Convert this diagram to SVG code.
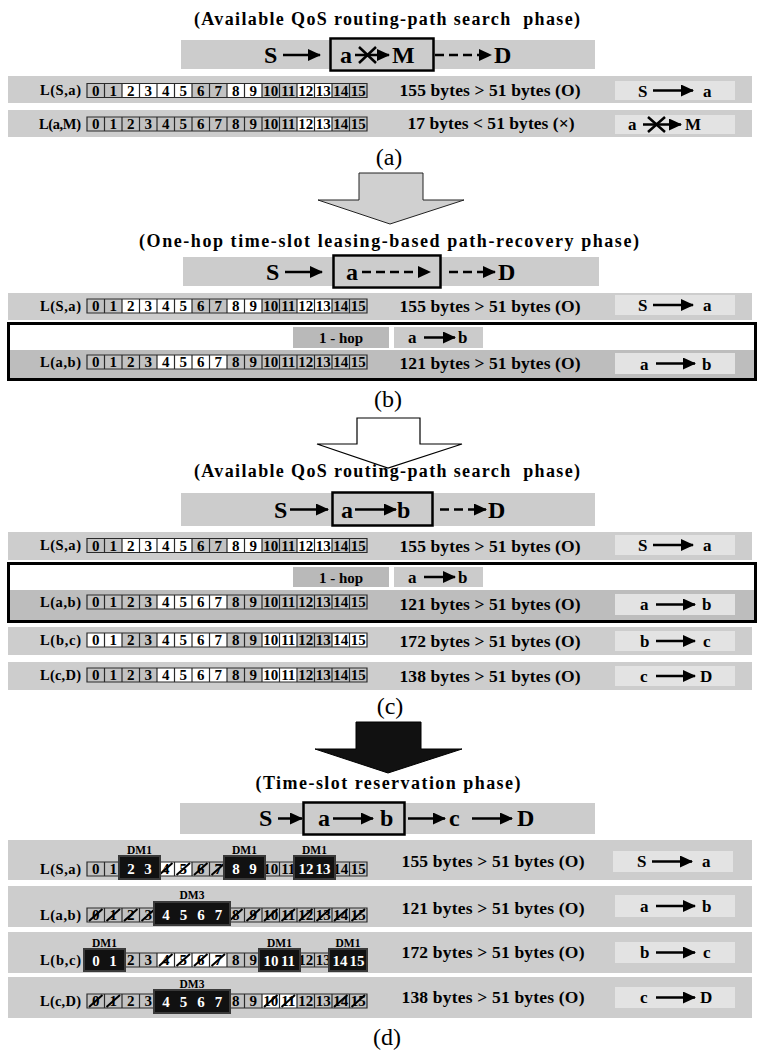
<svg xmlns="http://www.w3.org/2000/svg" width="759" height="1050" viewBox="0 0 759 1050">
<defs>
<style>
text{font-family:"Liberation Serif","Times New Roman",serif;font-weight:bold;fill:#000}
.t{font-size:18px;text-anchor:middle}
.big{font-size:24px}
.lab{font-size:14.5px;text-anchor:end}
.n text{font-size:15px;text-anchor:middle}
.n text.w{fill:#fff}
.n .dml{font-size:11.5px}
.mid{font-size:17.5px;text-anchor:middle}
.rt{font-size:17px}
.hop{font-size:15px;text-anchor:middle}
.cap{font-size:24px;font-weight:normal;text-anchor:middle}
.bar{fill:#cccccc}
.row{fill:#cdcdcd}
.rowd{fill:#bdbdbd}
.rb{fill:#e3e3e3}
.hb{fill:#b9b9b9}
.ab{fill:#cbcbcb}
.cg{fill:#c2c2c2}
.wc{fill:#fff}
.grid{fill:none;stroke:#2a2a2a;stroke-width:1.2}
.box{fill:none;stroke:#000;stroke-width:2.5}
.ln{stroke:#000;stroke-width:2.5;fill:none}
.dash{stroke-dasharray:9 5}
.sl{stroke:#000;stroke-width:2;fill:none}
.dm{fill:#111;stroke:#3a3a3a;stroke-width:2}
.frame{fill:none;stroke:#000;stroke-width:3}
</style>
<marker id="ah" markerUnits="userSpaceOnUse" markerWidth="13" markerHeight="12" refX="12" refY="6" orient="auto"><path d="M0 0L13 6L0 12z" fill="#000"/></marker>
<path id="gridp" class="grid" d="M87 0H367V14H87Z M104.5 0V14 M122 0V14 M139.5 0V14 M157 0V14 M174.5 0V14 M192 0V14 M209.5 0V14 M227 0V14 M244.5 0V14 M262 0V14 M279.5 0V14 M297 0V14 M314.5 0V14 M332 0V14 M349.5 0V14"/>
</defs>
<rect width="759" height="1050" fill="#fff"/>

<!-- ===== (a) ===== -->
<g id="title-a"><text class="t" x="387" y="25" textLength="386" lengthAdjust="spacing" xml:space="preserve">(Available QoS routing-path search  phase)</text></g>
<g id="path-a">
<rect class="bar" x="181" y="40" width="414" height="29"/>
<rect class="box" x="330.5" y="38.5" width="103" height="32"/>
<text class="big" x="264" y="63">S</text>
<line class="ln" x1="283" y1="55" x2="320" y2="55" marker-end="url(#ah)"/>
<text class="big" x="340" y="63">a</text>
<line class="ln" x1="355" y1="55" x2="389" y2="55" marker-end="url(#ah)"/>
<path class="ln" d="M359 47L376 63M376 47L359 63"/>
<text class="big" x="392" y="63">M</text>
<line class="ln dash" x1="435" y1="55" x2="491" y2="55" marker-end="url(#ah)"/>
<text class="big" x="494" y="63">D</text>
</g>
<g id="row-a1">
<rect class="row" x="8" y="76" width="744" height="27"/>
<text class="lab" x="81" y="95" textLength="41">L(S,a)</text>
<g class="n" transform="translate(0,83.5)">
<rect class="cg" x="87" width="280" height="14"/>
<rect class="wc" x="122" width="70" height="14"/><rect class="wc" x="227" width="35" height="14"/><rect class="wc" x="297" width="35" height="14"/>
<use href="#gridp"/>
<text x="95.75" y="12">0</text><text x="113.25" y="12">1</text><text x="130.75" y="12">2</text><text x="148.25" y="12">3</text><text x="165.75" y="12">4</text><text x="183.25" y="12">5</text><text x="200.75" y="12">6</text><text x="218.25" y="12">7</text><text x="235.75" y="12">8</text><text x="253.25" y="12">9</text><text x="270.75" y="12">10</text><text x="288.25" y="12">11</text><text x="305.75" y="12">12</text><text x="323.25" y="12">13</text><text x="340.75" y="12">14</text><text x="358.25" y="12">15</text>
</g>
<text class="mid" x="490" y="95.5" textLength="181">155 bytes &gt; 51 bytes (O)</text>
<rect class="rb" x="615" y="81" width="120" height="19"/>
<text class="rt" x="638" y="96.5">S</text>
<line class="ln" x1="653" y1="90.5" x2="693" y2="90.5" marker-end="url(#ah)"/>
<text class="rt" x="703" y="96.5">a</text>
</g>
<g id="row-a2">
<rect class="row" x="8" y="110" width="744" height="27"/>
<text class="lab" x="81" y="128.5" textLength="42">L(a,M)</text>
<g class="n" transform="translate(0,117)">
<rect class="cg" x="87" width="280" height="14"/>
<rect class="wc" x="297" width="35" height="14"/>
<use href="#gridp"/>
<text x="95.75" y="12">0</text><text x="113.25" y="12">1</text><text x="130.75" y="12">2</text><text x="148.25" y="12">3</text><text x="165.75" y="12">4</text><text x="183.25" y="12">5</text><text x="200.75" y="12">6</text><text x="218.25" y="12">7</text><text x="235.75" y="12">8</text><text x="253.25" y="12">9</text><text x="270.75" y="12">10</text><text x="288.25" y="12">11</text><text x="305.75" y="12">12</text><text x="323.25" y="12">13</text><text x="340.75" y="12">14</text><text x="358.25" y="12">15</text>
</g>
<text class="mid" x="491" y="129" textLength="167">17 bytes &lt; 51 bytes (×)</text>
<rect class="rb" x="615" y="115" width="120" height="19"/>
<text class="rt" x="628" y="130">a</text>
<line class="ln" x1="643" y1="124.5" x2="681" y2="124.5" marker-end="url(#ah)"/>
<path class="ln" d="M648 117L665 132M665 117L648 132"/>
<text class="rt" x="685" y="130">M</text>
</g>
<g id="label-a"><text class="cap" x="389" y="165">(a)</text></g>

<!-- ===== (b) ===== -->
<g id="title-b"><text class="t" x="389" y="247" textLength="500" lengthAdjust="spacing">(One-hop time-slot leasing-based path-recovery phase)</text></g>
<g id="path-b">
<rect class="bar" x="183" y="257" width="416" height="29"/>
<rect class="box" x="333.5" y="255.5" width="107" height="32"/>
<text class="big" x="266" y="280">S</text>
<line class="ln" x1="285" y1="272" x2="322" y2="272" marker-end="url(#ah)"/>
<text class="big" x="346" y="280">a</text>
<line class="ln dash" x1="362" y1="272" x2="430" y2="272" marker-end="url(#ah)"/>
<line class="ln dash" x1="449" y1="272" x2="495" y2="272" marker-end="url(#ah)"/>
<text class="big" x="498" y="280">D</text>
</g>
<g id="row-b1">
<rect class="row" x="8" y="293" width="744" height="27"/>
<text class="lab" x="81" y="310.5" textLength="41">L(S,a)</text>
<g class="n" transform="translate(0,299)">
<rect class="cg" x="87" width="280" height="14"/>
<rect class="wc" x="122" width="70" height="14"/><rect class="wc" x="227" width="35" height="14"/><rect class="wc" x="297" width="35" height="14"/>
<use href="#gridp"/>
<text x="95.75" y="12">0</text><text x="113.25" y="12">1</text><text x="130.75" y="12">2</text><text x="148.25" y="12">3</text><text x="165.75" y="12">4</text><text x="183.25" y="12">5</text><text x="200.75" y="12">6</text><text x="218.25" y="12">7</text><text x="235.75" y="12">8</text><text x="253.25" y="12">9</text><text x="270.75" y="12">10</text><text x="288.25" y="12">11</text><text x="305.75" y="12">12</text><text x="323.25" y="12">13</text><text x="340.75" y="12">14</text><text x="358.25" y="12">15</text>
</g>
<text class="mid" x="490" y="312" textLength="181">155 bytes &gt; 51 bytes (O)</text>
<rect class="rb" x="615" y="295" width="120" height="20"/>
<text class="rt" x="638" y="311">S</text>
<line class="ln" x1="653" y1="305" x2="693" y2="305" marker-end="url(#ah)"/>
<text class="rt" x="703" y="311">a</text>
</g>
<g id="hop-b">
<rect class="frame" x="8.5" y="323.5" width="747" height="56"/>
<rect class="hb" x="293" y="327" width="96" height="21"/>
<text class="hop" x="341" y="343">1 - hop</text>
<rect class="ab" x="394" y="327" width="89" height="21"/>
<text class="rt" x="408" y="343">a</text>
<line class="ln" x1="424" y1="337.5" x2="455" y2="337.5" marker-end="url(#ah)"/>
<text class="rt" x="458" y="343">b</text>
</g>
<g id="row-b2">
<rect class="rowd" x="10" y="350" width="744" height="28"/>
<text class="lab" x="81" y="366.5" textLength="41">L(a,b)</text>
<g class="n" transform="translate(0,355)">
<rect class="cg" x="87" width="280" height="14"/>
<rect class="wc" x="157" width="70" height="14"/>
<use href="#gridp"/>
<text x="95.75" y="12">0</text><text x="113.25" y="12">1</text><text x="130.75" y="12">2</text><text x="148.25" y="12">3</text><text x="165.75" y="12">4</text><text x="183.25" y="12">5</text><text x="200.75" y="12">6</text><text x="218.25" y="12">7</text><text x="235.75" y="12">8</text><text x="253.25" y="12">9</text><text x="270.75" y="12">10</text><text x="288.25" y="12">11</text><text x="305.75" y="12">12</text><text x="323.25" y="12">13</text><text x="340.75" y="12">14</text><text x="358.25" y="12">15</text>
</g>
<text class="mid" x="490" y="369" textLength="181">121 bytes &gt; 51 bytes (O)</text>
<rect class="rb" x="615" y="353" width="120" height="21"/>
<text class="rt" x="640" y="369.5">a</text>
<line class="ln" x1="656" y1="363.5" x2="695" y2="363.5" marker-end="url(#ah)"/>
<text class="rt" x="702" y="369.5">b</text>
</g>
<g id="label-b"><text class="cap" x="388" y="407">(b)</text></g>

<!-- ===== (c) ===== -->
<g id="title-c"><text class="t" x="387" y="477" textLength="386" lengthAdjust="spacing" xml:space="preserve">(Available QoS routing-path search  phase)</text></g>
<g id="path-c">
<rect class="bar" x="181" y="493" width="414" height="33"/>
<rect class="box" x="332.5" y="492.5" width="100" height="33"/>
<text class="big" x="274" y="517.5">S</text>
<line class="ln" x1="290" y1="509.5" x2="328" y2="509.5" marker-end="url(#ah)"/>
<text class="big" x="341" y="517.5">a</text>
<line class="ln" x1="355" y1="509.5" x2="396" y2="509.5" marker-end="url(#ah)"/>
<text class="big" x="397" y="517.5">b</text>
<line class="ln dash" x1="440" y1="509.5" x2="486" y2="509.5" marker-end="url(#ah)"/>
<text class="big" x="488" y="517.5">D</text>
</g>
<g id="row-c1">
<rect class="row" x="8" y="532" width="744" height="28"/>
<text class="lab" x="81" y="550" textLength="41">L(S,a)</text>
<g class="n" transform="translate(0,538.5)">
<rect class="cg" x="87" width="280" height="14"/>
<rect class="wc" x="122" width="70" height="14"/><rect class="wc" x="227" width="35" height="14"/><rect class="wc" x="297" width="35" height="14"/>
<use href="#gridp"/>
<text x="95.75" y="12">0</text><text x="113.25" y="12">1</text><text x="130.75" y="12">2</text><text x="148.25" y="12">3</text><text x="165.75" y="12">4</text><text x="183.25" y="12">5</text><text x="200.75" y="12">6</text><text x="218.25" y="12">7</text><text x="235.75" y="12">8</text><text x="253.25" y="12">9</text><text x="270.75" y="12">10</text><text x="288.25" y="12">11</text><text x="305.75" y="12">12</text><text x="323.25" y="12">13</text><text x="340.75" y="12">14</text><text x="358.25" y="12">15</text>
</g>
<text class="mid" x="490" y="551.5" textLength="181">155 bytes &gt; 51 bytes (O)</text>
<rect class="rb" x="615" y="535" width="120" height="20"/>
<text class="rt" x="638" y="551">S</text>
<line class="ln" x1="653" y1="545" x2="693" y2="545" marker-end="url(#ah)"/>
<text class="rt" x="703" y="551">a</text>
</g>
<g id="hop-c">
<rect class="frame" x="8.5" y="563.5" width="747" height="58"/>
<rect class="hb" x="293" y="567" width="96" height="20"/>
<text class="hop" x="341" y="582.5">1 - hop</text>
<rect class="ab" x="394" y="567" width="89" height="20"/>
<text class="rt" x="408" y="582.5">a</text>
<line class="ln" x1="424" y1="577" x2="455" y2="577" marker-end="url(#ah)"/>
<text class="rt" x="458" y="582.5">b</text>
</g>
<g id="row-c2">
<rect class="rowd" x="10" y="590" width="744" height="30"/>
<text class="lab" x="81" y="606.5" textLength="41">L(a,b)</text>
<g class="n" transform="translate(0,595)">
<rect class="cg" x="87" width="280" height="14"/>
<rect class="wc" x="157" width="70" height="14"/>
<use href="#gridp"/>
<text x="95.75" y="12">0</text><text x="113.25" y="12">1</text><text x="130.75" y="12">2</text><text x="148.25" y="12">3</text><text x="165.75" y="12">4</text><text x="183.25" y="12">5</text><text x="200.75" y="12">6</text><text x="218.25" y="12">7</text><text x="235.75" y="12">8</text><text x="253.25" y="12">9</text><text x="270.75" y="12">10</text><text x="288.25" y="12">11</text><text x="305.75" y="12">12</text><text x="323.25" y="12">13</text><text x="340.75" y="12">14</text><text x="358.25" y="12">15</text>
</g>
<text class="mid" x="490" y="609.5" textLength="181">121 bytes &gt; 51 bytes (O)</text>
<rect class="rb" x="615" y="594" width="120" height="21"/>
<text class="rt" x="640" y="610">a</text>
<line class="ln" x1="656" y1="604.5" x2="695" y2="604.5" marker-end="url(#ah)"/>
<text class="rt" x="702" y="610">b</text>
</g>
<g id="row-c3">
<rect class="row" x="8" y="627" width="744" height="28"/>
<text class="lab" x="81" y="644.5" textLength="41">L(b,c)</text>
<g class="n" transform="translate(0,633)">
<rect class="cg" x="87" width="280" height="14"/>
<rect class="wc" x="87" width="35" height="14"/><rect class="wc" x="157" width="70" height="14"/><rect class="wc" x="262" width="35" height="14"/><rect class="wc" x="332" width="35" height="14"/>
<use href="#gridp"/>
<text x="95.75" y="12">0</text><text x="113.25" y="12">1</text><text x="130.75" y="12">2</text><text x="148.25" y="12">3</text><text x="165.75" y="12">4</text><text x="183.25" y="12">5</text><text x="200.75" y="12">6</text><text x="218.25" y="12">7</text><text x="235.75" y="12">8</text><text x="253.25" y="12">9</text><text x="270.75" y="12">10</text><text x="288.25" y="12">11</text><text x="305.75" y="12">12</text><text x="323.25" y="12">13</text><text x="340.75" y="12">14</text><text x="358.25" y="12">15</text>
</g>
<text class="mid" x="490" y="646.5" textLength="181">172 bytes &gt; 51 bytes (O)</text>
<rect class="rb" x="615" y="631" width="120" height="20"/>
<text class="rt" x="640" y="647">b</text>
<line class="ln" x1="656" y1="641" x2="695" y2="641" marker-end="url(#ah)"/>
<text class="rt" x="703" y="647">c</text>
</g>
<g id="row-c4">
<rect class="row" x="8" y="662" width="744" height="28"/>
<text class="lab" x="81" y="679.5" textLength="41">L(c,D)</text>
<g class="n" transform="translate(0,668)">
<rect class="cg" x="87" width="280" height="14"/>
<rect class="wc" x="157" width="70" height="14"/><rect class="wc" x="262" width="35" height="14"/>
<use href="#gridp"/>
<text x="95.75" y="12">0</text><text x="113.25" y="12">1</text><text x="130.75" y="12">2</text><text x="148.25" y="12">3</text><text x="165.75" y="12">4</text><text x="183.25" y="12">5</text><text x="200.75" y="12">6</text><text x="218.25" y="12">7</text><text x="235.75" y="12">8</text><text x="253.25" y="12">9</text><text x="270.75" y="12">10</text><text x="288.25" y="12">11</text><text x="305.75" y="12">12</text><text x="323.25" y="12">13</text><text x="340.75" y="12">14</text><text x="358.25" y="12">15</text>
</g>
<text class="mid" x="490" y="681.5" textLength="181">138 bytes &gt; 51 bytes (O)</text>
<rect class="rb" x="615" y="666" width="120" height="20"/>
<text class="rt" x="640" y="682">c</text>
<line class="ln" x1="656" y1="676" x2="695" y2="676" marker-end="url(#ah)"/>
<text class="rt" x="700" y="682">D</text>
</g>
<g id="label-c"><text class="cap" x="390" y="714">(c)</text></g>

<!-- ===== (d) ===== -->
<g id="title-d"><text class="t" x="388" y="789" textLength="265" lengthAdjust="spacing">(Time-slot reservation phase)</text></g>
<g id="path-d">
<rect class="bar" x="180" y="803" width="415" height="31"/>
<rect class="box" x="303.5" y="802.5" width="101" height="32"/>
<text class="big" x="259" y="826">S</text>
<line class="ln" x1="278" y1="818.5" x2="302" y2="818.5" marker-end="url(#ah)"/>
<text class="big" x="318" y="826">a</text>
<line class="ln" x1="333" y1="818.5" x2="373" y2="818.5" marker-end="url(#ah)"/>
<text class="big" x="380" y="826">b</text>
<line class="ln" x1="408" y1="818.5" x2="445" y2="818.5" marker-end="url(#ah)"/>
<text class="big" x="449" y="826">c</text>
<line class="ln" x1="472" y1="818.5" x2="512" y2="818.5" marker-end="url(#ah)"/>
<text class="big" x="517" y="826">D</text>
</g>
<g id="row-d1">
<rect class="row" x="8" y="840" width="744" height="40"/>
<text class="lab" x="81" y="873.5" textLength="41">L(S,a)</text>
<g class="n" transform="translate(0,862)">
<rect class="cg" x="87" width="280" height="14"/>
<rect class="wc" x="157" width="35" height="14"/>
<use href="#gridp"/>
<text x="95.75" y="12">0</text><text x="113.25" y="12">1</text><text x="165.75" y="12">4</text><text x="183.25" y="12">5</text><text x="200.75" y="12">6</text><text x="218.25" y="12">7</text><text x="270.75" y="12">10</text><text x="288.25" y="12">11</text><text x="340.75" y="12">14</text><text x="358.25" y="12">15</text>
<path class="sl" d="M159 13L172.5 1M176.5 13L190 1M194 13L207.5 1M211.5 13L225 1"/>
<rect class="dm" x="119" y="-6" width="41" height="23"/>
<rect class="dm" x="224" y="-6" width="41" height="23"/>
<rect class="dm" x="294" y="-6" width="41" height="23"/>
<text class="w" x="131" y="12">2</text><text class="w" x="148" y="12">3</text><text class="w" x="236" y="12">8</text><text class="w" x="253" y="12">9</text><text class="w" x="306" y="12">12</text><text class="w" x="323" y="12">13</text>
<text class="dml" x="139.5" y="-8">DM1</text><text class="dml" x="244.5" y="-8">DM1</text><text class="dml" x="314.5" y="-8">DM1</text>
</g>
<text class="mid" x="493" y="866.5" textLength="183">155 bytes &gt; 51 bytes (O)</text>
<rect class="rb" x="613" y="851" width="120" height="21"/>
<text class="rt" x="637" y="867">S</text>
<line class="ln" x1="652" y1="861.5" x2="692" y2="861.5" marker-end="url(#ah)"/>
<text class="rt" x="702" y="867">a</text>
</g>
<g id="row-d2">
<rect class="row" x="8" y="886" width="744" height="41"/>
<text class="lab" x="81" y="919.5" textLength="41">L(a,b)</text>
<g class="n" transform="translate(0,908)">
<rect class="cg" x="87" width="280" height="14"/>
<use href="#gridp"/>
<text x="95.75" y="12">0</text><text x="113.25" y="12">1</text><text x="130.75" y="12">2</text><text x="148.25" y="12">3</text><text x="235.75" y="12">8</text><text x="253.25" y="12">9</text><text x="270.75" y="12">10</text><text x="288.25" y="12">11</text><text x="305.75" y="12">12</text><text x="323.25" y="12">13</text><text x="340.75" y="12">14</text><text x="358.25" y="12">15</text>
<path class="sl" d="M89 13L102.5 1M106.5 13L120 1M124 13L137.5 1M141.5 13L155 1M229 13L242.5 1M246.5 13L260 1M264 13L277.5 1M281.5 13L295 1M299 13L312.5 1M316.5 13L330 1M334 13L347.5 1M351.5 13L365 1"/>
<rect class="dm" x="154" y="-6" width="76" height="23"/>
<text class="w" x="166" y="12">4</text><text class="w" x="183.5" y="12">5</text><text class="w" x="201" y="12">6</text><text class="w" x="218.5" y="12">7</text>
<text class="dml" x="192" y="-9">DM3</text>
</g>
<text class="mid" x="493" y="914" textLength="183">121 bytes &gt; 51 bytes (O)</text>
<rect class="rb" x="615" y="895" width="120" height="22"/>
<text class="rt" x="640" y="912">a</text>
<line class="ln" x1="656" y1="906" x2="695" y2="906" marker-end="url(#ah)"/>
<text class="rt" x="702" y="912">b</text>
</g>
<g id="row-d3">
<rect class="row" x="8" y="932" width="744" height="41"/>
<text class="lab" x="81" y="964.5" textLength="41">L(b,c)</text>
<g class="n" transform="translate(0,953)">
<rect class="cg" x="87" width="280" height="14"/>
<rect class="wc" x="157" width="70" height="14"/>
<use href="#gridp"/>
<text x="130.75" y="12">2</text><text x="148.25" y="12">3</text><text x="165.75" y="12">4</text><text x="183.25" y="12">5</text><text x="200.75" y="12">6</text><text x="218.25" y="12">7</text><text x="235.75" y="12">8</text><text x="253.25" y="12">9</text><text x="305.75" y="12">12</text><text x="323.25" y="12">13</text>
<path class="sl" d="M159 13L172.5 1M176.5 13L190 1M194 13L207.5 1M211.5 13L225 1"/>
<rect class="dm" x="84" y="-4" width="41" height="22"/>
<rect class="dm" x="259" y="-4" width="41" height="22"/>
<rect class="dm" x="329" y="-4" width="38" height="22"/>
<text class="w" x="96" y="12.5">0</text><text class="w" x="113" y="12.5">1</text><text class="w" x="271" y="12.5">10</text><text class="w" x="288" y="12.5">11</text><text class="w" x="340" y="12.5">14</text><text class="w" x="357" y="12.5">15</text>
<text class="dml" x="104.5" y="-6">DM1</text><text class="dml" x="279.5" y="-6">DM1</text><text class="dml" x="348" y="-6">DM1</text>
</g>
<text class="mid" x="493" y="957.5" textLength="183">172 bytes &gt; 51 bytes (O)</text>
<rect class="rb" x="615" y="942" width="120" height="21"/>
<text class="rt" x="640" y="958">b</text>
<line class="ln" x1="656" y1="952.5" x2="695" y2="952.5" marker-end="url(#ah)"/>
<text class="rt" x="703" y="958">c</text>
</g>
<g id="row-d4">
<rect class="row" x="8" y="977" width="744" height="41"/>
<text class="lab" x="81" y="1006" textLength="41">L(c,D)</text>
<g class="n" transform="translate(0,994)">
<rect class="cg" x="87" width="280" height="14"/>
<rect class="wc" x="262" width="35" height="14"/>
<use href="#gridp"/>
<text x="95.75" y="12">0</text><text x="113.25" y="12">1</text><text x="130.75" y="12">2</text><text x="148.25" y="12">3</text><text x="235.75" y="12">8</text><text x="253.25" y="12">9</text><text x="270.75" y="12">10</text><text x="288.25" y="12">11</text><text x="305.75" y="12">12</text><text x="323.25" y="12">13</text><text x="340.75" y="12">14</text><text x="358.25" y="12">15</text>
<path class="sl" d="M89 13L102.5 1M106.5 13L120 1M264 13L277.5 1M281.5 13L295 1M334 13L347.5 1M351.5 13L365 1"/>
<rect class="dm" x="154" y="-4" width="76" height="23"/>
<text class="w" x="166" y="13">4</text><text class="w" x="183.5" y="13">5</text><text class="w" x="201" y="13">6</text><text class="w" x="218.5" y="13">7</text>
<text class="dml" x="192" y="-6">DM3</text>
</g>
<text class="mid" x="493" y="1002.5" textLength="183">138 bytes &gt; 51 bytes (O)</text>
<rect class="rb" x="615" y="987" width="120" height="21"/>
<text class="rt" x="640" y="1003">c</text>
<line class="ln" x1="656" y1="997.5" x2="695" y2="997.5" marker-end="url(#ah)"/>
<text class="rt" x="700" y="1003">D</text>
</g>
<g id="label-d"><text class="cap" x="387" y="1045">(d)</text></g>

<!-- ===== connectors: phase transition arrows ===== -->
<g id="connectors">
<polygon points="359,173 423,173 423,200 464,200 390,224 318,200 359,200" fill="#d0d0d0" stroke="#222" stroke-width="1"/>
<polygon points="357,418 420,418 420,444 462,444 388,468 317,444 357,444" fill="#fff" stroke="#000" stroke-width="1.2"/>
<polygon points="356,722 421,722 421,749 462,749 388,773 315,749 356,749" fill="#111" stroke="#000" stroke-width="1"/>
</g>
</svg>
